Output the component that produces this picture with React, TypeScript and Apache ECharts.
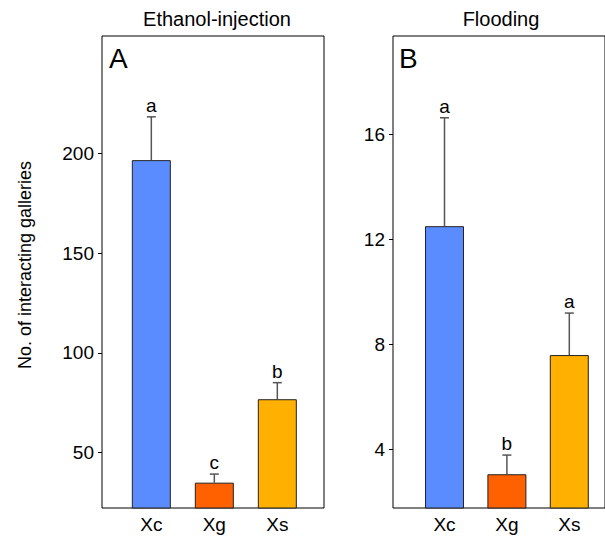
import React, { useEffect, useRef } from "react";
import * as echarts from "echarts";

const categories = ["Xc", "Xg", "Xs"];
const colors = ["#5b8cff", "#ff6000", "#ffb000"];

const ethanolMeans = [196.6, 35.0, 76.8];
const ethanolUpper = [218.3, 39.3, 85.1];
const ethanolLetters = ["a", "c", "b"];
const ethanolTicks = [50, 100, 150, 200];

const floodMeans = [12.5, 3.05, 7.59];
const floodUpper = [16.63, 3.78, 9.19];
const floodLetters = ["a", "b", "a"];
const floodTicks = [4, 8, 12, 16];

const FONT = "'Liberation Sans', Arial, Helvetica, sans-serif";
const positions = [1, 2, 3];

export default function App() {
  const ref = useRef<HTMLDivElement>(null);
  useEffect(() => {
    if (!ref.current) return;
    const chart = echarts.init(ref.current, null, { renderer: "svg" });

    const xAxisBase = (gridIndex: number, min: number, max: number) => ({
      type: "value",
      gridIndex,
      min,
      max,
      splitLine: { show: false },
      axisLine: { show: false },
      axisTick: { show: false },
      axisLabel: {
        customValues: positions,
        formatter: (v: number) => categories[Math.round(v) - 1] ?? "",
        color: "#000",
        fontSize: 19,
        fontFamily: FONT,
        margin: 7,
      },
    });
    const yAxisBase = (gridIndex: number, min: number, max: number, ticks: number[]) => ({
      type: "value",
      gridIndex,
      min,
      max,
      splitLine: { show: false },
      axisLine: { show: false },
      axisTick: {
        show: true,
        customValues: ticks,
        length: 4,
        lineStyle: { color: "#000", width: 1 },
      },
      axisLabel: {
        customValues: ticks,
        color: "#000",
        fontSize: 19,
        fontFamily: FONT,
        margin: 8,
      },
    });

    const barSeries = (idx: number, means: number[]) => ({
      type: "bar",
      xAxisIndex: idx,
      yAxisIndex: idx,
      barWidth: 39,
      data: means.map((m, i) => ({
        value: [positions[i], m],
        itemStyle: { color: colors[i], borderColor: "#222", borderWidth: 1 },
      })),
    });

    const errSeries = (idx: number, means: number[], upper: number[], letters: string[]) => ({
      type: "custom",
      xAxisIndex: idx,
      yAxisIndex: idx,
      data: means.map((m, i) => [positions[i], m, upper[i], i]),
      renderItem: (params: any, api: any) => {
        const x = api.value(0);
        const lo = api.coord([x, api.value(1)]);
        const hi = api.coord([x, api.value(2)]);
        const i = api.value(3);
        const ls = { stroke: "#555", lineWidth: 1.5 };
        return {
          type: "group",
          children: [
            { type: "line", shape: { x1: lo[0], y1: lo[1], x2: hi[0], y2: hi[1] }, style: ls },
            { type: "line", shape: { x1: hi[0] - 4.5, y1: hi[1], x2: hi[0] + 4.5, y2: hi[1] }, style: ls },
            {
              type: "text",
              style: {
                text: letters[i],
                x: hi[0],
                y: hi[1] - 2,
                textAlign: "center",
                textVerticalAlign: "bottom",
                font: `19px ${FONT}`,
                fill: "#000",
              },
            },
          ],
        };
      },
    });

    chart.setOption({
      animation: false,
      backgroundColor: "#fff",
      grid: [
        { left: 102, top: 36, width: 222, height: 472, show: true, borderColor: "#000", borderWidth: 1, backgroundColor: "transparent" },
        { left: 393, top: 36, width: 214, height: 472, show: true, borderColor: "#000", borderWidth: 1, backgroundColor: "transparent" },
      ],
      xAxis: [xAxisBase(0, 0.217, 3.741), xAxisBase(1, 0.175, 3.572)],
      yAxis: [
        yAxisBase(0, 22.3, 258.8, ethanolTicks),
        yAxisBase(1, 1.764, 19.745, floodTicks),
      ],
      series: [
        barSeries(0, ethanolMeans),
        errSeries(0, ethanolMeans, ethanolUpper, ethanolLetters),
        barSeries(1, floodMeans),
        errSeries(1, floodMeans, floodUpper, floodLetters),
      ],
      graphic: [
        { type: "text", x: 217, y: 19, style: { text: "Ethanol-injection", font: `20px ${FONT}`, fill: "#000", textAlign: "center", textVerticalAlign: "middle" } },
        { type: "text", x: 501, y: 19, style: { text: "Flooding", font: `20px ${FONT}`, fill: "#000", textAlign: "center", textVerticalAlign: "middle" } },
        { type: "text", x: 109, y: 44, style: { text: "A", font: `28px ${FONT}`, fill: "#000", textAlign: "left", textVerticalAlign: "top" } },
        { type: "text", x: 399, y: 44, style: { text: "B", font: `28px ${FONT}`, fill: "#000", textAlign: "left", textVerticalAlign: "top" } },
        { type: "text", x: 25, y: 265, rotation: Math.PI / 2, style: { text: "No. of interacting galleries", font: `18px ${FONT}`, fill: "#000", textAlign: "center", textVerticalAlign: "middle" } },
      ],
    });
    return () => chart.dispose();
  }, []);
  return (
    <div
      ref={ref}
      style={{ position: "fixed", left: 0, top: 0, width: 605, height: 537 }}
    />
  );
}
